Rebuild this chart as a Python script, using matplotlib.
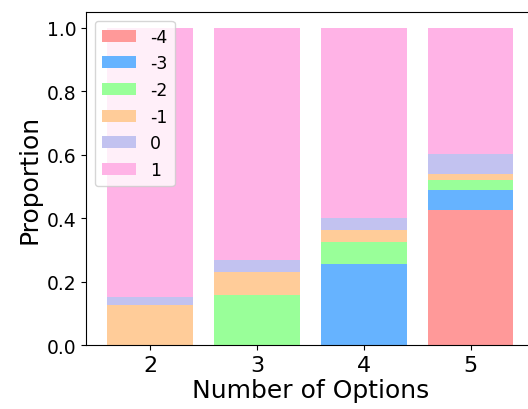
import numpy as np
import matplotlib.pyplot as plt

options = [2, 3, 4, 5]
labels = ['-4', '-3', '-2', '-1', '0', '1']
colors = ['#ff9999', '#66b3ff', '#99ff99', '#ffcc99', '#c2c2f0', '#ffb3e6']

# proportion of each score per number of options
p_m4 = [0.0, 0.0, 0.0, 0.425]
p_m3 = [0.0, 0.0, 0.257, 0.065]
p_m2 = [0.0, 0.158, 0.069, 0.030]
p_m1 = [0.127, 0.071, 0.036, 0.019]
p_0 = [0.024, 0.039, 0.040, 0.065]
p_1 = [0.849, 0.732, 0.598, 0.396]
series = [p_m4, p_m3, p_m2, p_m1, p_0, p_1]

fig = plt.figure(figsize=(5.28, 4.10), dpi=100)
ax = fig.add_axes([0.163, 0.156, 0.85, 0.812])

bottom = np.zeros(len(options))
for vals, lab, col in zip(series, labels, colors):
    ax.bar(options, vals, bottom=bottom, color=col, label=lab, width=0.8)
    bottom += np.array(vals)

ax.set_xlim(1.4, 5.6)
ax.set_ylim(0, 1.05)
ax.set_xticks(options)
ax.tick_params(axis='x', labelsize=16)
ax.tick_params(axis='y', labelsize=13.5)
ax.set_xlabel('Number of Options', fontsize=18, labelpad=2)
ax.set_ylabel('Proportion', fontsize=18)
ax.legend(loc='upper left', fontsize=12.5)

fig.savefig('out.png', dpi=100)
